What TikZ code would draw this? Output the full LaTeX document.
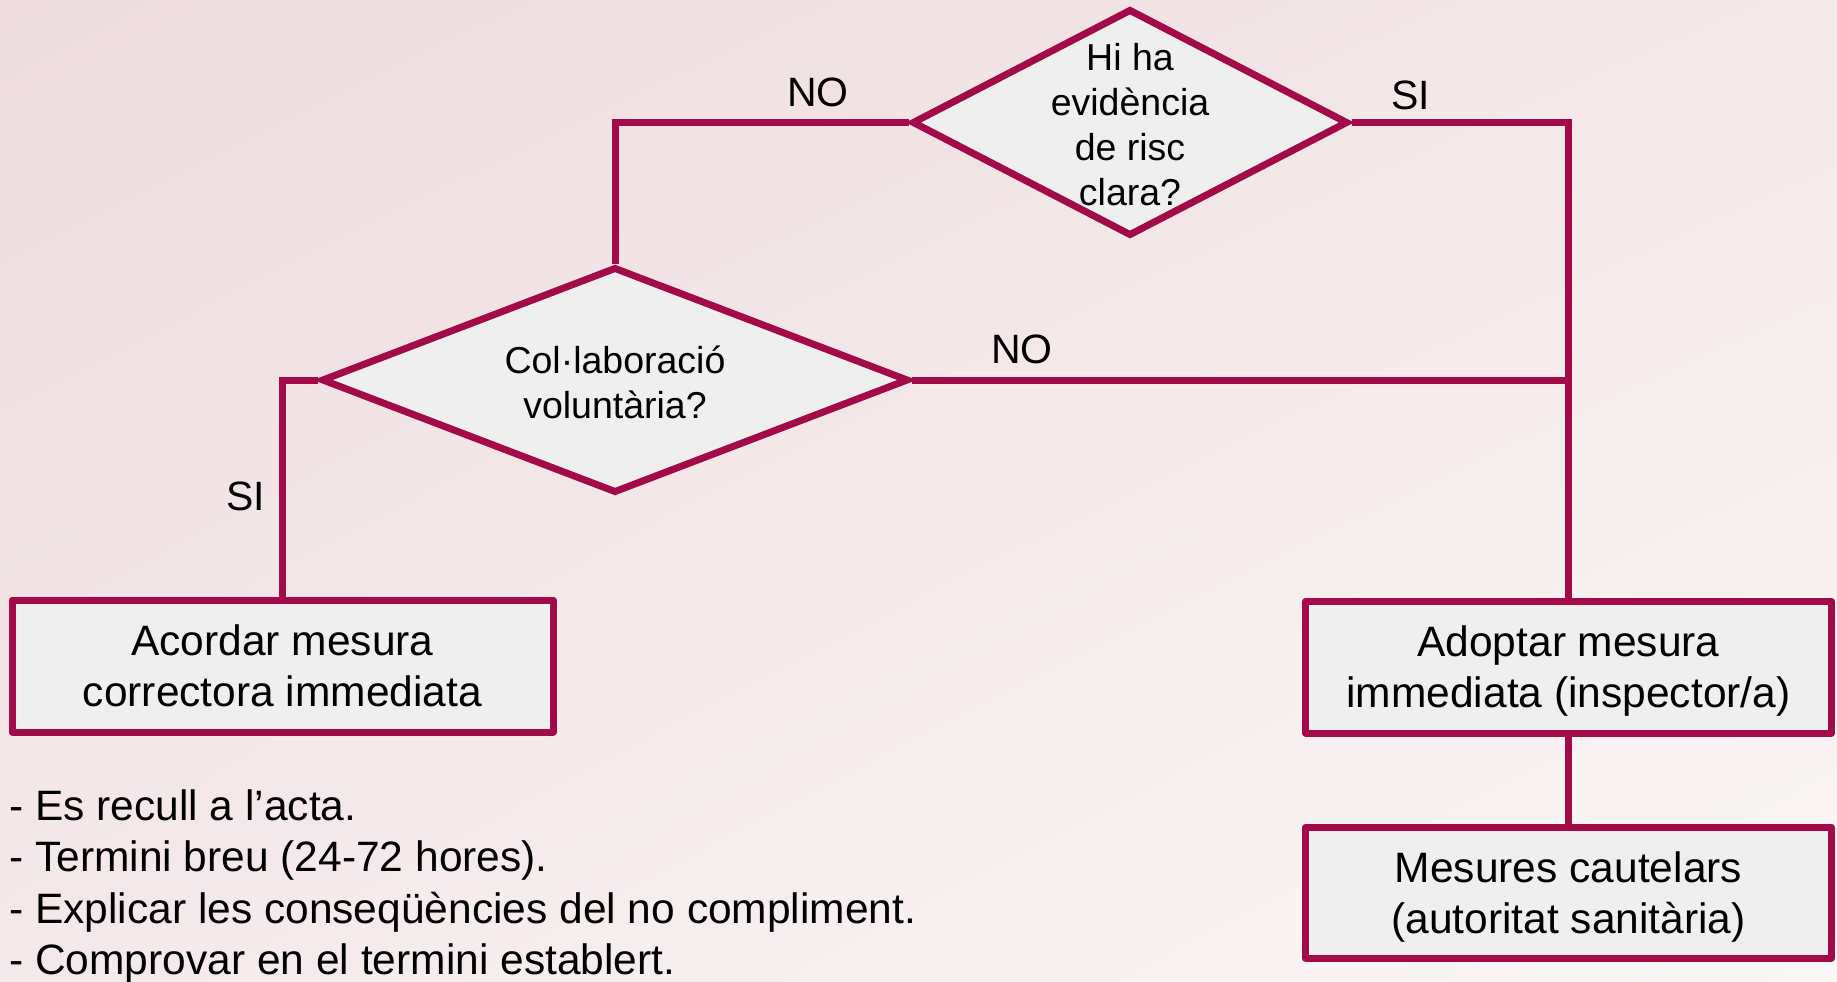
\documentclass[tikz,border=0pt]{standalone}
\usepackage{fontspec}
\setmainfont{Liberation Sans}
\usetikzlibrary{shapes.geometric,shadings}
\definecolor{crim}{HTML}{A30A4A}
\definecolor{boxfill}{HTML}{EFEFEF}
\definecolor{bgUL}{RGB}{238,220,222}
\definecolor{bgUR}{RGB}{244,232,233}
\definecolor{bgLL}{RGB}{244,233,234}
\definecolor{bgLR}{RGB}{251,247,247}
\tikzset{
  conn/.style={draw=crim, line width=7pt},
  dia/.style={diamond, draw=crim, fill=boxfill, line width=7pt, inner sep=0pt},
  qtext/.style={align=center, font=\fontsize{37.5}{45}\selectfont, inner sep=0pt},
  stepbox/.style={rectangle, draw=crim, fill=boxfill, line width=7pt, line join=round, align=center, font=\fontsize{42.5}{51}\selectfont, inner sep=0pt, text depth=0pt},
  lbl/.style={font=\fontsize{41}{49}\selectfont, inner sep=0pt},
}
\begin{document}
\begin{tikzpicture}[x=1pt,y=-1pt]
\useasboundingbox (0,0) rectangle (1837,982);
\shade[upper left=bgUL, upper right=bgUR, lower left=bgLL, lower right=bgLR] (0,0) rectangle (1837,982);

\node[dia, minimum width=436, minimum height=227] (d1) at (1130,122.5) {};
\node[qtext] (d1t) at ([yshift=-2pt]d1) {Hi ha\\evidència\\de risc\\clara?};
\node[dia, minimum width=587, minimum height=226] (d2) at (615,380) {};
\node[qtext] (d2t) at ([yshift=-2pt]d2) {Col·laboració\\voluntària?};

\node[stepbox, minimum width=541, minimum height=132] (b1) at (282.5,666) {Acordar mesura\\correctora immediata};
\node[stepbox, minimum width=526, minimum height=132] (b2) at (1568.5,667) {Adoptar mesura\\immediata (inspector/a)};
\node[stepbox, minimum width=526, minimum height=131] (b3) at (1568.5,892.5) {Mesures cautelars\\(autoritat sanitària)};

\coordinate (j) at (d2.east -| b2.north);
\draw[conn] (d1.west) -| (d2.north);
\draw[conn] (d1.east) -| (b2.north);
\draw[conn] (d2.east) -- (j);
\draw[conn] (d2.west) -| (b1.north);
\draw[conn] (b2.south) -- (b3.north);

\node[lbl] (no1) at (818,92) {NO};
\node[lbl] (si1) at (1411,95) {SI};
\node[lbl] (no2) at (1022,349) {NO};
\node[lbl] (si2) at (246,496) {SI};

\node[anchor=west, align=left, inner sep=0pt, font=\fontsize{42.5}{51.5}\selectfont] (notes) at (9,886.5)
 {- Es recull a l’acta.\\- Termini breu (24-72 hores).\\- Explicar les conseqüències del no compliment.\\- Comprovar en el termini establert.};
\end{tikzpicture}
\end{document}
